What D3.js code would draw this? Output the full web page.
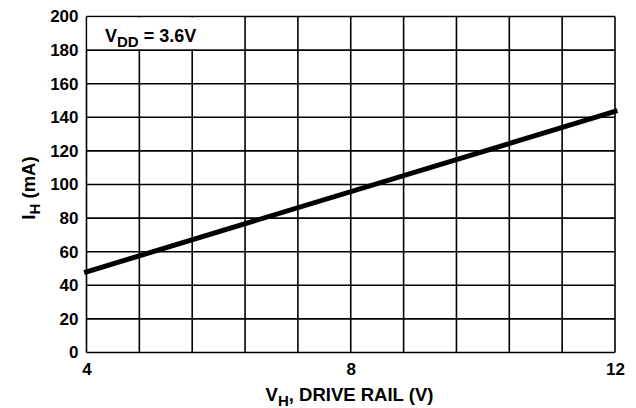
<!DOCTYPE html>
<html>
<head>
<meta charset="utf-8">
<script src="https://cdn.jsdelivr.net/npm/d3@7"></script>
<style>
  body { margin: 0; background: #fff; }
  text { font-family: "Liberation Sans", Arial, sans-serif; font-weight: bold; fill: #000; }
</style>
</head>
<body>
<svg id="chart" width="636" height="408"></svg>
<script>
// drive rail voltage vs current
const driveV = [4, 12];
const currentMA = [48, 143.5];
const xTickLabels = [4, 8, 12];
const yTickLabels = [0, 20, 40, 60, 80, 100, 120, 140, 160, 180, 200];
const xGrid = [4, 4.8, 5.6, 6.4, 7.2, 8, 8.8, 9.6, 10.4, 11.2, 12];

const svg = d3.select('#chart');
const margin = { left: 86.5, right: 21, top: 16.5, bottom: 55.5 };
const W = 636, H = 408;

const x = d3.scaleLinear().domain([4, 12]).range([margin.left, W - margin.right]);
const y = d3.scaleLinear().domain([0, 200]).range([H - margin.bottom, margin.top]);

const g = svg.append('g');

// horizontal gridlines
g.selectAll('.hgrid')
  .data(yTickLabels)
  .enter().append('line')
  .attr('x1', x(4)).attr('x2', x(12))
  .attr('y1', d => y(d)).attr('y2', d => y(d))
  .attr('stroke', '#000').attr('stroke-width', 1.6);

// vertical gridlines
g.selectAll('.vgrid')
  .data(xGrid)
  .enter().append('line')
  .attr('x1', d => x(d)).attr('x2', d => x(d))
  .attr('y1', y(0)).attr('y2', y(200))
  .attr('stroke', '#000').attr('stroke-width', 1.6);

// white box behind the V_DD label (top row, first three columns)
g.append('rect')
  .attr('x', x(4) + 1).attr('y', y(200) + 1)
  .attr('width', x(6.4) - x(4) - 2).attr('height', y(180) - y(200) - 2)
  .attr('fill', '#fff');

const lbl = svg.append('text')
  .attr('x', 105).attr('y', 41.5)
  .style('font-size', '18px');
lbl.append('tspan').text('V');
lbl.append('tspan').attr('dy', 5).style('font-size', '15px').text('DD');
lbl.append('tspan').attr('dy', -5).text(' = 3.6V');

// data line
const line = d3.line().x((d, i) => x(driveV[i])).y(d => y(d));
g.append('path')
  .datum(currentMA)
  .attr('d', line)
  .attr('fill', 'none')
  .attr('stroke', '#000')
  .attr('stroke-width', 5)
  .attr('stroke-linecap', 'square');

// axes
const yAxis = d3.axisLeft(y).tickValues(yTickLabels).tickSize(0).tickPadding(8);
svg.append('g')
  .attr('transform', `translate(${margin.left},0)`)
  .call(yAxis)
  .call(s => s.select('.domain').remove())
  .selectAll('text')
  .style('font-size', '17px')
  .style('font-family', '"Liberation Sans", Arial, sans-serif')
  .style('font-weight', 'bold')
  .attr('fill', '#000');

const xAxis = d3.axisBottom(x).tickValues(xTickLabels).tickSize(0).tickPadding(10);
svg.append('g')
  .attr('transform', `translate(0,${H - margin.bottom})`)
  .call(xAxis)
  .call(s => s.select('.domain').remove())
  .selectAll('text')
  .style('font-size', '17px')
  .style('font-family', '"Liberation Sans", Arial, sans-serif')
  .style('font-weight', 'bold')
  .attr('fill', '#000');

// axis titles
const xt = svg.append('text')
  .attr('x', 349.5).attr('y', 401)
  .attr('text-anchor', 'middle')
  .style('font-size', '18.5px');
xt.append('tspan').text('V');
xt.append('tspan').attr('dy', 5).style('font-size', '15px').text('H');
xt.append('tspan').attr('dy', -5).text(', DRIVE RAIL (V)');

const yt = svg.append('text')
  .attr('transform', 'translate(35,188) rotate(-90)')
  .attr('text-anchor', 'middle')
  .style('font-size', '18.5px');
yt.append('tspan').text('I');
yt.append('tspan').attr('dy', 5).style('font-size', '15px').text('H');
yt.append('tspan').attr('dy', -5).text(' (mA)');
</script>
</body>
</html>
